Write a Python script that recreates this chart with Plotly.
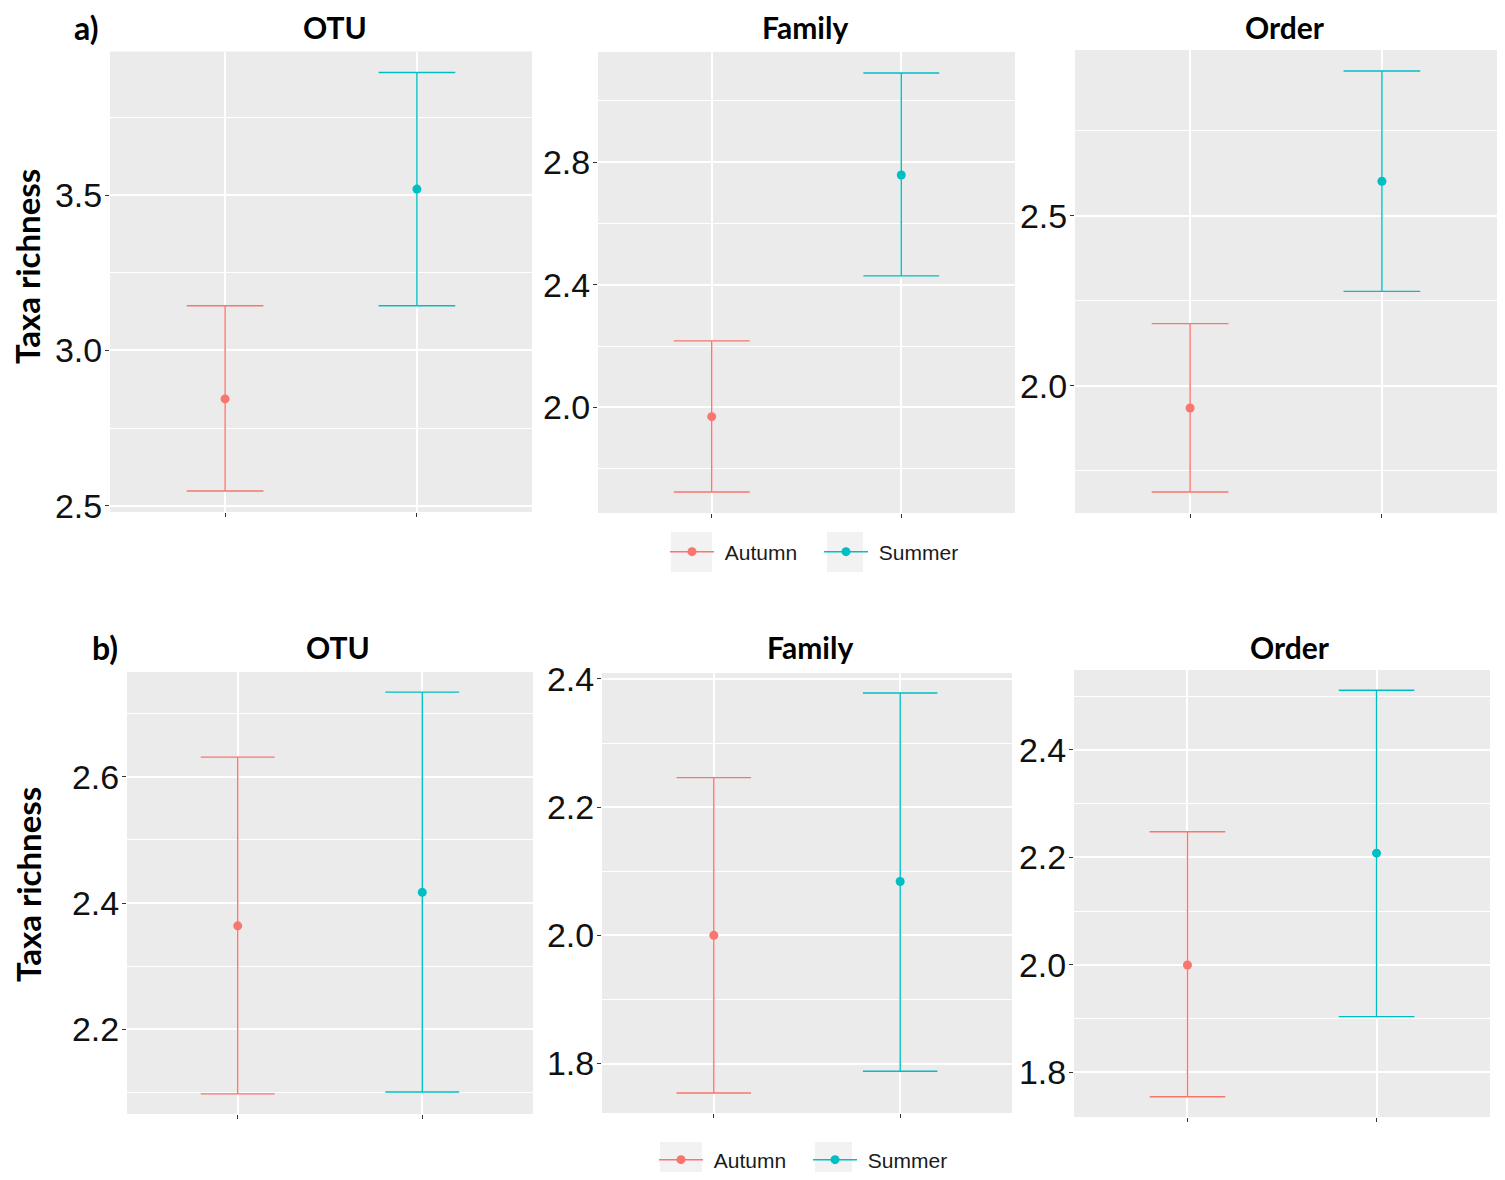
import plotly.graph_objects as go

# ---------------- data ----------------
seasons = ["Autumn", "Summer"]
season_colors = ["#F8766D", "#00BFC4"]
x_pos = [1, 2]
panel_titles = ["OTU", "Family", "Order"]
row_labels = ["a)", "b)"]

# row a
a_mean = [[2.844, 3.520], [1.970, 2.758], [1.935, 2.602]]
a_upper = [[3.144, 3.896], [2.217, 3.091], [2.183, 2.926]]
a_lower = [[2.547, 3.144], [1.724, 2.429], [1.688, 2.278]]
# row b
b_mean = [[2.364, 2.417], [2.000, 2.084], [2.000, 2.208]]
b_upper = [[2.631, 2.734], [2.246, 2.378], [2.248, 2.511]]
b_lower = [[2.098, 2.101], [1.754, 1.788], [1.755, 1.904]]

a_dtick = [0.5, 0.4, 0.5]
b_dtick = [0.2, 0.2, 0.2]

# ---------------- layout helpers ----------------
W, H = 1489, 1164
OFFX, OFFY = 8, 8


def X(px):
    return (px - OFFX) / W


def Y(py):
    return 1 - (py - OFFY) / H


# panel boxes in screen px: (left, top, right, bottom)
boxes = [
    [(110, 51.5, 532, 512), (598, 52, 1015, 513), (1075, 50, 1497, 513)],
    [(127, 672, 533, 1114), (602, 673, 1012, 1113), (1074, 670, 1490, 1117)],
]

fig = go.Figure()

rows = [(a_mean, a_upper, a_lower, a_dtick), (b_mean, b_upper, b_lower, b_dtick)]
axis_idx = 0
layout_axes = {}
for r, (means, uppers, lowers, dticks) in enumerate(rows):
    for c in range(3):
        axis_idx += 1
        sfx = "" if axis_idx == 1 else str(axis_idx)
        L, T, R, B = boxes[r][c]
        xr = [0.4, 2.6]
        half_cap = 0.2 * (R - L) / (xr[1] - xr[0])
        lo_all = min(lowers[c])
        hi_all = max(uppers[c])
        span = hi_all - lo_all
        yr = [lo_all - 0.05 * span, hi_all + 0.05 * span]
        for s in range(2):
            m = means[c][s]
            fig.add_trace(go.Scatter(
                x=[x_pos[s]], y=[m],
                mode="lines+markers",
                name="\u00a0" + seasons[s],
                legendgroup=seasons[s],
                legend="legend" if r == 0 else "legend2",
                showlegend=(c == 0),
                marker=dict(color=season_colors[s], size=9),
                line=dict(color=season_colors[s], width=1.5),
                error_y=dict(type="data", symmetric=False,
                             array=[uppers[c][s] - m],
                             arrayminus=[m - lowers[c][s]],
                             color=season_colors[s], thickness=1.4,
                             width=half_cap),
                xaxis="x" + sfx, yaxis="y" + sfx,
                hoverinfo="skip",
            ))
        layout_axes["xaxis" + sfx] = dict(
            domain=[X(L), X(R)], anchor="y" + sfx, range=xr,
            tickvals=x_pos, ticktext=["", ""], ticks="outside", ticklen=4,
            tickcolor="#333333", showgrid=True, gridcolor="white", gridwidth=1.5,
            zeroline=False, showline=False, fixedrange=True, automargin=False,
        )
        layout_axes["yaxis" + sfx] = dict(
            domain=[Y(B), Y(T)], anchor="x" + sfx, range=yr,
            tick0=0, dtick=dticks[c], tickformat=".1f",
            ticks="outside", ticklen=4, tickcolor="#333333",
            ticklabelstandoff=-4,
            tickfont=dict(family="Liberation Sans", size=34, color="#111111"),
            showgrid=True, gridcolor="white", gridwidth=1.5,
            minor=dict(dtick=dticks[c] / 2, tick0=0, showgrid=True,
                       gridcolor="white", gridwidth=0.8, ticks=""),
            zeroline=False, showline=False, fixedrange=True, automargin=False,
        )

annotations = []
title_pos = [[(335, 27), (805, 27), (1285, 27)], [(338, 647), (810, 647), (1290, 647)]]
for r in range(2):
    for c in range(3):
        tx, ty = title_pos[r][c]
        annotations.append(dict(
            text="<b>%s</b>" % panel_titles[c], x=X(tx), y=Y(ty),
            xref="paper", yref="paper", showarrow=False,
            xanchor="center", yanchor="middle",
            font=dict(family="Lato", size=30, color="black"),
        ))
label_pos = [(86, 27), (105, 647)]
for r in range(2):
    lx, ly = label_pos[r]
    annotations.append(dict(
        text="<b>%s</b>" % row_labels[r], x=X(lx), y=Y(ly),
        xref="paper", yref="paper", showarrow=False,
        xanchor="center", yanchor="middle",
        font=dict(family="Lato", size=32, color="black"),
    ))
ytitle_pos = [(27, 267), (28, 885)]
for r in range(2):
    ax_, ay_ = ytitle_pos[r]
    annotations.append(dict(
        text="<b>Taxa richness</b>", x=X(ax_), y=Y(ay_),
        xref="paper", yref="paper", showarrow=False, textangle=-90,
        xanchor="center", yanchor="middle",
        font=dict(family="Lato", size=33, color="black"),
    ))

# legend key backgrounds (ggplot style grey key boxes)
key_boxes = [(671, 532, 712, 572), (827, 532, 863, 572),
             (660, 1142, 702, 1180), (815, 1142, 852, 1180)]
shapes = []
for (x0, y0, x1, y1) in key_boxes:
    shapes.append(dict(type="rect", xref="paper", yref="paper",
                       x0=X(x0), x1=X(x1), y0=Y(y1), y1=Y(y0),
                       fillcolor="#F2F2F2", line=dict(width=0), layer="below"))

legend_common = dict(
    orientation="h", xanchor="left", yanchor="middle",
    font=dict(family="Liberation Sans", size=21, color="#1a1a1a"),
    bgcolor="rgba(0,0,0,0)", entrywidth=95, entrywidthmode="pixels",
    itemwidth=44, itemclick=False, itemdoubleclick=False,
)

fig.update_layout(
    width=W, height=H,
    margin=dict(l=0, r=0, t=0, b=0, autoexpand=False),
    paper_bgcolor="white", plot_bgcolor="#EBEBEB",
    annotations=annotations, shapes=shapes,
    legend=dict(x=X(665), y=Y(552), **legend_common),
    legend2=dict(x=X(654), y=Y(1160), **legend_common),
    **layout_axes,
)

fig.write_html("out.html")
